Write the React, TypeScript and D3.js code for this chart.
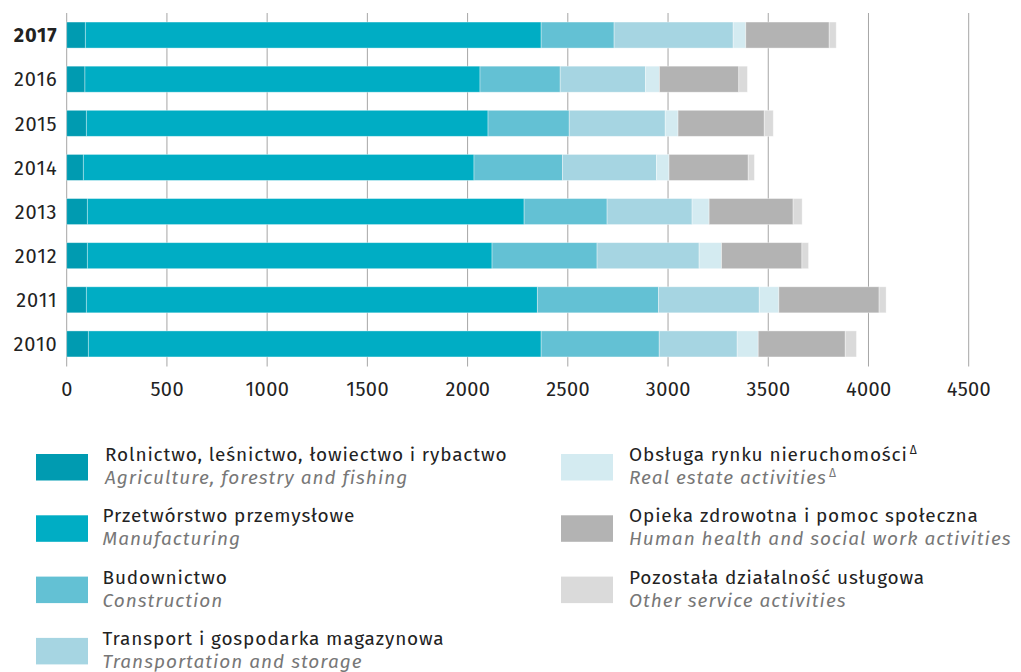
import React from "react";
import * as d3 from "d3";

const years = ["2017", "2016", "2015", "2014", "2013", "2012", "2011", "2010"];
const agriculture = [93, 91, 98, 83, 103, 103, 98, 108];
const manufacturing = [2274, 1971, 2004, 1949, 2179, 2019, 2250, 2259];
const construction = [364, 400, 405, 441, 414, 524, 604, 589];
const transport = [594, 426, 479, 469, 424, 509, 503, 389];
const realEstate = [63, 69, 64, 63, 85, 112, 98, 105];
const health = [416, 396, 430, 395, 419, 401, 500, 434];
const otherServices = [35, 43, 45, 31, 45, 33, 35, 56];
const xTicks = [0, 500, 1000, 1500, 2000, 2500, 3000, 3500, 4000, 4500];

const seriesKeys = ["agri", "manuf", "constr", "trans", "real", "health", "other"];
const seriesValues = [agriculture, manufacturing, construction, transport, realEstate, health, otherServices];
const colors = ["#009bb1", "#00adc4", "#63c1d4", "#a6d5e2", "#d4ebf1", "#b3b3b3", "#dadada"];
const labelsPl = [
  "Rolnictwo, leśnictwo, łowiectwo i rybactwo",
  "Przetwórstwo przemysłowe",
  "Budownictwo",
  "Transport i gospodarka magazynowa",
  "Obsługa rynku nieruchomości",
  "Opieka zdrowotna i pomoc społeczna",
  "Pozostała działalność usługowa",
];
const labelsEn = [
  "Agriculture, forestry and fishing",
  "Manufacturing",
  "Construction",
  "Transportation and storage",
  "Real estate activities",
  "Human health and social work activities",
  "Other service activities",
];
const deltaMark = [false, false, false, false, true, false, false];

const FONT = "'Fira Sans', 'Open Sans', 'Noto Sans', sans-serif";

export default function App() {
  const W = 1021, H = 672;
  const x = d3.scaleLinear().domain([0, 4500]).range([66.7, 968.7]);
  const y = d3.scaleBand().domain(years).range([13, 366]).paddingInner(0.41).paddingOuter(0.205);

  const table = years.map((yr, i) => {
    const row: any = { year: yr };
    seriesKeys.forEach((k, j) => (row[k] = seriesValues[j][i]));
    return row;
  });
  const stacked = d3.stack().keys(seriesKeys)(table);

  const legendItems = seriesKeys.map((k, i) => {
    const col = i < 4 ? 0 : 1;
    const row = i < 4 ? i : i - 4;
    const sx = col === 0 ? 36 : 561;
    const sy = 454 + row * 61.3;
    const tx = col === 0 ? (i === 0 ? 105 : 102.5) : 629;
    return { i, sx, sy, tx };
  });

  return (
    <div style={{ position: "absolute", left: 0, top: 0 }}>
      <svg width={W} height={H} style={{ display: "block", background: "#fff" }} fontFamily={FONT}>
        {xTicks.map((t) => (
          <line key={"g" + t} x1={x(t)} x2={x(t)} y1={13} y2={366.5} stroke="#a6a6a6" strokeWidth={1} />
        ))}
        {stacked.map((s, j) => (
          <g key={s.key} fill={colors[j]}>
            {s.map((d: any, i: number) => (
              <rect
                key={i}
                x={x(d[0])}
                y={y(d.data.year)}
                width={x(d[1]) - x(d[0])}
                height={y.bandwidth()}
                stroke="#ffffff"
                strokeOpacity={0.45}
                strokeWidth={0.8}
              />
            ))}
          </g>
        ))}
        {years.map((yr) => (
          <text
            key={"y" + yr}
            x={57.5}
            y={(y(yr) as number) + y.bandwidth() / 2}
            dy="0.36em"
            textAnchor="end"
            fontSize={20}
            letterSpacing={0.9}
            fontWeight={yr === "2017" ? 700 : 400}
            fill="#222"
          >
            {yr}
          </text>
        ))}
        {xTicks.map((t) => (
          <text key={"t" + t} x={x(t) + 0.3} y={396} textAnchor="middle" fontSize={20} letterSpacing={0.4} fill="#222">
            {t}
          </text>
        ))}
        {legendItems.map(({ i, sx, sy, tx }) => (
          <g key={"l" + i}>
            <rect x={sx} y={sy} width={52} height={26.5} fill={colors[i]} />
            <text x={tx} y={sy + 7} fontSize={19} letterSpacing={0.85} fill="#222">
              {labelsPl[i]}
              {deltaMark[i] && (
                <tspan dx={2} dy={-7} fontSize={12}>Δ</tspan>
              )}
            </text>
            <text x={tx} y={sy + 30} fontSize={19} letterSpacing={1} fontStyle="italic" fill="#777">
              {labelsEn[i]}
              {deltaMark[i] && (
                <tspan dx={2} dy={-7} fontSize={12} fontStyle="normal">Δ</tspan>
              )}
            </text>
          </g>
        ))}
      </svg>
    </div>
  );
}
